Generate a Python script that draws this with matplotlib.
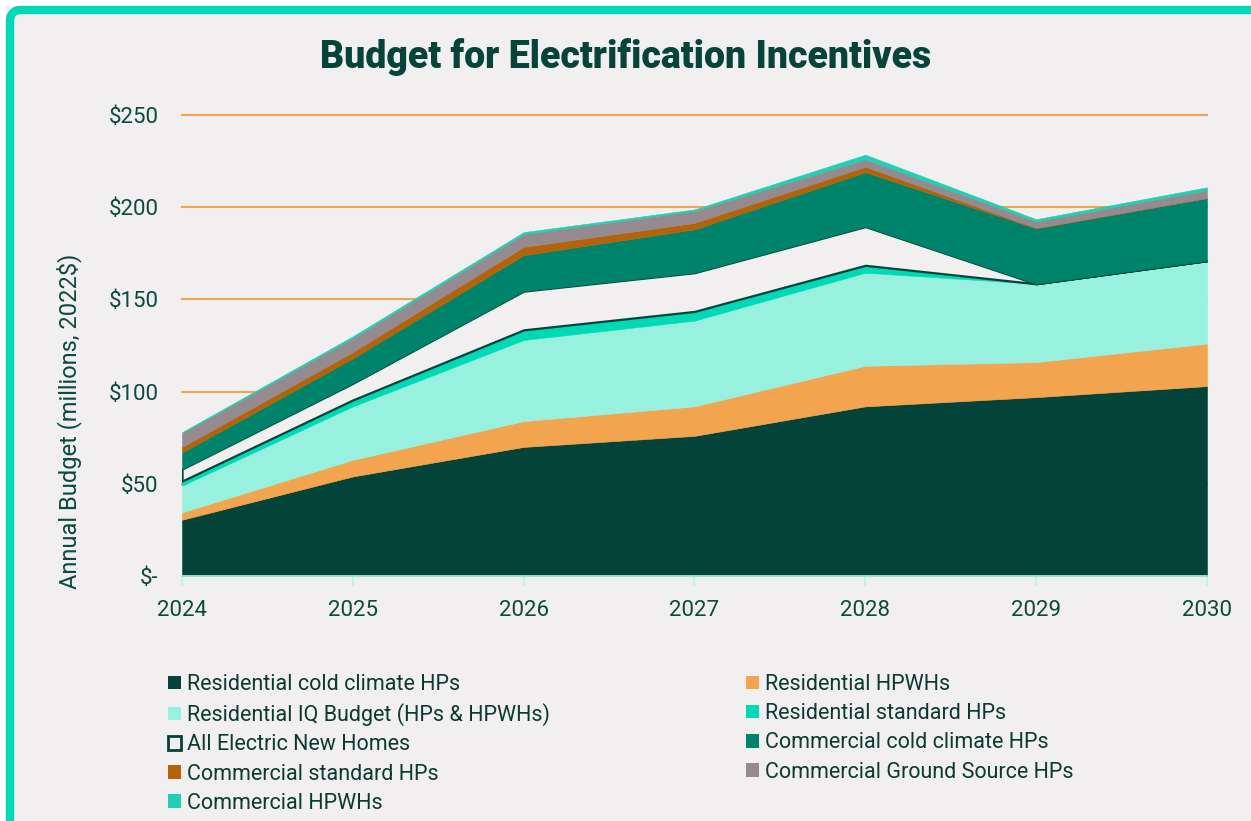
import matplotlib
matplotlib.use('Agg')
import numpy as np
import matplotlib.pyplot as plt
from matplotlib.lines import Line2D
from matplotlib.patches import Patch, Rectangle

plt.rcParams['font.family'] = ['Liberation Sans Narrow', 'Roboto', 'DejaVu Sans']

# data (millions, 2022$)
years = [2024, 2025, 2026, 2027, 2028, 2029, 2030]
res_cold = [30.5, 54, 70, 76, 92, 97, 103]
res_hpwh = [4, 9, 14, 16, 22, 19, 23]
res_iq = [14.5, 29, 44, 46.5, 50.5, 42.5, 45]
res_std = [2.5, 3.5, 5.5, 5, 4, 0, 0]
all_elec = [6.5, 9, 21, 21, 21, 0, 0]
com_cold = [9, 13.5, 19.5, 23.5, 29.5, 30, 34]
com_std = [3, 3.5, 4.5, 3.5, 3, 0.3, 0]
com_gs = [7.5, 7.5, 7, 6.5, 4, 3.5, 4.3]
com_hpwh = [0.5, 1, 1, 0.8, 2.5, 1.2, 1.5]

labels = ['Residential cold climate HPs', 'Residential HPWHs',
          'Residential IQ Budget (HPs & HPWHs)', 'Residential standard HPs',
          'All Electric New Homes', 'Commercial cold climate HPs',
          'Commercial standard HPs', 'Commercial Ground Source HPs',
          'Commercial HPWHs']
yticks = [0, 50, 100, 150, 200, 250]
ytick_labels = ['$-', '$50', '$100', '$150', '$200', '$250']

bg = '#f1eff0'
dark = '#04433a'
txt = '#0c4a3d'
colors = ['#04433a', '#f2a44e', '#98f0de', '#00d9b5', bg,
          '#00836b', '#b3640b', '#958a90', '#22cfb0']

W, H = 1251, 821
fig = plt.figure(figsize=(W / 100, H / 100), dpi=100, facecolor=bg)

# white margin outside the frame, then the teal frame (top and left only)
fig.add_artist(Rectangle((0, 0), 6 / W, 1, transform=fig.transFigure,
                         facecolor='white', edgecolor='none'))
fig.add_artist(Rectangle((0, 1 - 6 / H), 1, 6 / H, transform=fig.transFigure,
                         facecolor='white', edgecolor='none'))
r = 10
th = np.linspace(np.pi, 0.5 * np.pi, 20)
fx = np.concatenate([[10], 10 + r + r * np.cos(th), [W + 20]])
fy = np.concatenate([[-20], H - 10 - r + r * np.sin(th), [H - 10]])
fig.add_artist(Line2D(fx / W, fy / H, transform=fig.transFigure,
                      color='#00d9b5', lw=6))

ax = fig.add_axes([0.1455, 0.2984, 0.8193, 0.5615])
ax.set_facecolor('none')
series = [res_cold, res_hpwh, res_iq, res_std, all_elec,
          com_cold, com_std, com_gs, com_hpwh]
polys = ax.stackplot(years, *series, colors=colors, zorder=3)
for i, p in enumerate(polys):
    if i == 4:
        p.set_edgecolor(dark)
        p.set_linewidth(1.6)
    else:
        p.set_edgecolor(colors[i])
        p.set_linewidth(0.4)

ax.set_xlim(2024, 2030)
ax.set_ylim(0, 250)
ax.set_yticks(yticks)
ax.set_yticklabels(ytick_labels)
ax.set_xticks(years)
ax.set_xticklabels([str(y) for y in years])
for y in yticks[1:]:
    ax.axhline(y, color='#f2a44e', lw=1.5, zorder=1, clip_on=False)

for s in ['top', 'right', 'left']:
    ax.spines[s].set_visible(False)
ax.spines['bottom'].set_color('#b8f5e8')
ax.spines['bottom'].set_linewidth(1.2)
ax.spines['bottom'].set_zorder(4)
ax.tick_params(axis='x', colors='#b8f5e8', length=7, width=1.2, pad=10,
               labelcolor=txt, labelsize=16)
ax.tick_params(axis='y', length=0, pad=17, labelcolor=txt, labelsize=16)

fig.text(0.5, 0.93, 'Budget for Electrification Incentives', ha='center',
         va='center', fontsize=27, fontweight='heavy', color='#06443a')
fig.text(0.055, 0.487, 'Annual Budget (millions, 2022$)', rotation=90,
         ha='center', va='center', fontsize=17, color=txt)

handles = []
for i in range(9):
    if i == 4:
        handles.append(Patch(facecolor=bg, edgecolor=dark, lw=2))
    else:
        handles.append(Patch(facecolor=colors[i], edgecolor='none'))

col1 = [0, 2, 4, 6, 8]
col2 = [1, 3, 5, 7]
for idx, xpos in [(col1, 0.1343), (col2, 0.5963)]:
    lg = fig.legend([handles[i] for i in idx], [labels[i] for i in idx],
                    loc='upper left', bbox_to_anchor=(xpos, 0.179),
                    frameon=False, fontsize=15.5, handlelength=0.6,
                    handleheight=0.6, handletextpad=0.3, labelspacing=0.38,
                    borderaxespad=0, borderpad=0)
    for t in lg.get_texts():
        t.set_color('#0d3a30')

fig.savefig('out.png', dpi=100, facecolor=bg)
